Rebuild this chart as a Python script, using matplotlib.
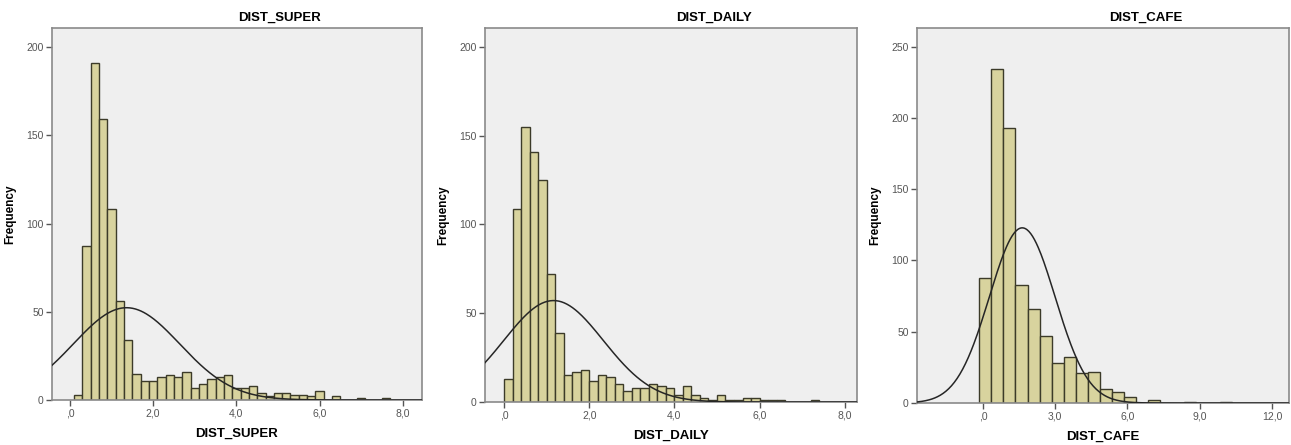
import numpy as np
import matplotlib
matplotlib.use("Agg")
import matplotlib.pyplot as plt

plt.rcParams['font.family'] = ['Liberation Sans', 'DejaVu Sans']

# histogram counts
super_start, super_width = 0.1, 0.2
super_counts = [3, 87, 191, 159, 108, 56, 34, 15, 11, 11, 13, 14, 13, 16, 7, 9,
                12, 13, 14, 7, 7, 8, 4, 2, 4, 4, 3, 3, 2, 5, 0, 2, 0, 0, 1, 0, 0, 1]
super_mean, super_sd = 1.36, 1.28

daily_start, daily_width = 0.0, 0.2
daily_counts = [13, 109, 155, 141, 125, 72, 39, 15, 17, 18, 12, 15, 14, 10, 6, 8,
                8, 10, 9, 8, 4, 9, 4, 2, 1, 4, 1, 1, 2, 2, 1, 1, 1, 0, 0, 0, 1]
daily_mean, daily_sd = 1.16, 1.17

cafe_start, cafe_width = -0.15, 0.5
cafe_counts = [88, 234, 193, 83, 66, 47, 28, 32, 21, 22, 10, 8, 4, 0, 2, 0, 0, 1, 0, 0, 1]
cafe_mean, cafe_sd = 1.63, 1.364

names = ['DIST_SUPER', 'DIST_DAILY', 'DIST_CAFE']
xticks = [[0, 2, 4, 6, 8], [0, 2, 4, 6, 8], [0, 3, 6, 9, 12]]
xtick_labels = [[',0', '2,0', '4,0', '6,0', '8,0'],
                [',0', '2,0', '4,0', '6,0', '8,0'],
                [',0', '3,0', '6,0', '9,0', '12,0']]
yticks = [[0, 50, 100, 150, 200], [0, 50, 100, 150, 200], [0, 50, 100, 150, 200, 250]]

panels = [(super_start, super_width, super_counts, super_mean, super_sd),
          (daily_start, daily_width, daily_counts, daily_mean, daily_sd),
          (cafe_start, cafe_width, cafe_counts, cafe_mean, cafe_sd)]
xlims = [(-0.43, 8.46), (-0.45, 8.29), (-2.74, 12.71)]
ylims = [210.8, 210.7, 263]
boxes = [[52/1291, 45/445, 370/1291, 372/445],
         [485/1291, 43/445, 372/1291, 374/445],
         [917/1291, 42/445, 372/1291, 375/445]]

fig = plt.figure(figsize=(12.91, 4.45), dpi=100)

for i in range(3):
    start, width, counts, mu, sd = panels[i]
    counts = np.array(counts)
    edges = start + width * np.arange(len(counts))
    ax = fig.add_axes(boxes[i])
    ax.set_facecolor('#efefef')
    keep = counts > 0
    ax.bar(edges[keep], counts[keep], width=width, align='edge',
           color='#d8d39e', edgecolor='#3c3b29', linewidth=1.0, zorder=2)
    x = np.linspace(xlims[i][0], xlims[i][1], 400)
    n = counts.sum()
    y = n * width / (sd * np.sqrt(2 * np.pi)) * np.exp(-0.5 * ((x - mu) / sd) ** 2)
    ax.plot(x, y, color='#262626', linewidth=1.1, zorder=3)
    ax.set_xlim(*xlims[i])
    ax.set_ylim(0, ylims[i])
    ax.set_xticks(xticks[i])
    ax.set_xticklabels(xtick_labels[i])
    ax.set_yticks(yticks[i])
    ax.tick_params(direction='out', length=4, width=1, color='#555555',
                   labelsize=7.5, labelcolor='#555555', pad=2)
    for s in ax.spines.values():
        s.set_color('#8a8a8a')
        s.set_linewidth(1.2)
    ax.text(0.615, 1.028, names[i], transform=ax.transAxes, ha='center',
            va='center', fontsize=9.5, fontweight='bold')
    ax.set_xlabel(names[i], fontsize=9.5, fontweight='bold', labelpad=7)
    ax.set_ylabel('Frequency', fontsize=8.5, fontweight='bold', labelpad=7)

fig.savefig('out.png', dpi=100)
